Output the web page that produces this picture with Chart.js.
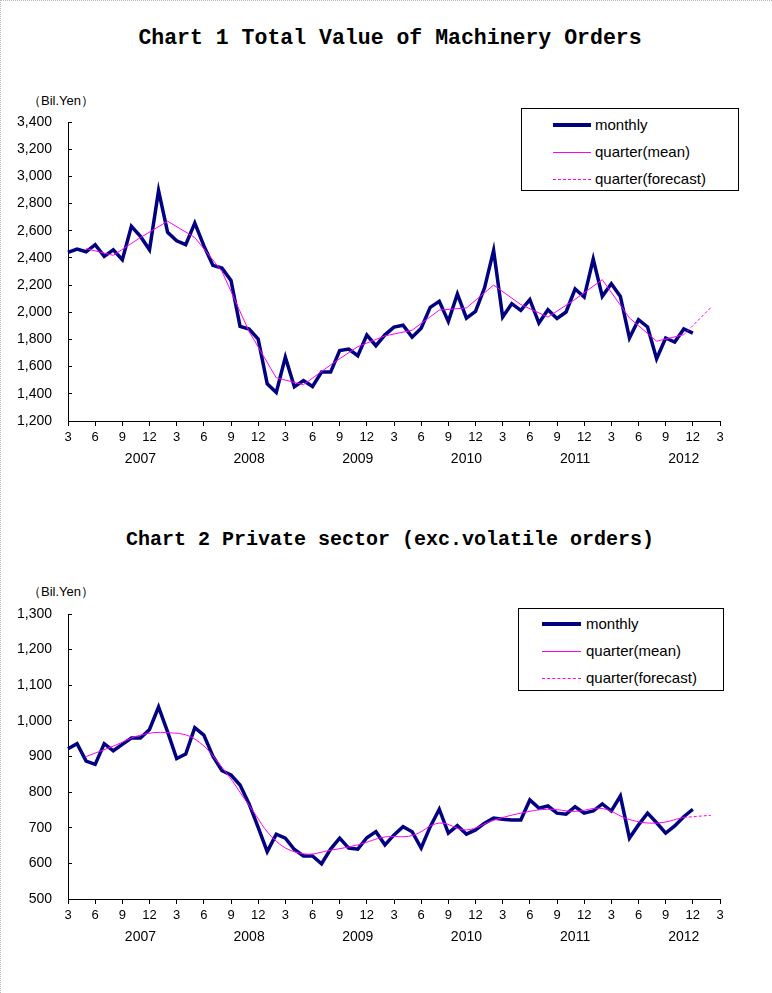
<!DOCTYPE html>
<html>
<head>
<meta charset="utf-8">
<script src="https://cdn.jsdelivr.net/npm/chart.js@4.4.1/dist/chart.umd.min.js"></script>
<style>
    html, body { margin: 0; padding: 0; background: #fff; }
    body { width: 772px; height: 993px; position: relative; overflow: hidden; }
    .frame { position: absolute; left: 0; top: 0; width: 772px; height: 993px; box-sizing: border-box;
             border-top: 1px dotted #b8b8b8; border-left: 1px dotted #b8b8b8; pointer-events: none; }
    .title { position: absolute; left: 0; width: 780px; text-align: center; line-height: 24px;
             font: bold 20px "Liberation Mono", "DejaVu Sans Mono", monospace; color: #000; }
    .unit  { position: absolute; left: 28px; font: 13px "Liberation Sans", Arial, sans-serif; color: #000; }
    .wrap  { position: absolute; left: 0; width: 772px; }
    .legend { position: absolute; border: 1px solid #000; background: #fff; box-sizing: border-box;
              font: 15px "Liberation Sans", Arial, sans-serif; color: #000; }
    .legend .row { position: absolute; left: 0; height: 20px; line-height: 20px; white-space: nowrap; }
    .legend .sw  { position: absolute; height: 0; }
    .legend .tx  { position: absolute; top: 0; }
</style>
</head>
<body>
<div class="frame"></div>

<div class="title" style="top:26px; font-size:21.5px;">Chart 1 Total Value of Machinery Orders</div>
<div class="unit" style="top:92px;">（Bil.Yen）</div>
<div class="wrap" style="top:100px; height:371px;"><canvas id="chart1"></canvas></div>
<div class="legend" id="legend1" style="left:521px; top:108px; width:218px; height:83px;"></div>

<div class="title" style="top:528px;">Chart 2 Private sector (exc.volatile orders)</div>
<div class="unit" style="top:583px;">（Bil.Yen）</div>
<div class="wrap" style="top:595px; height:354px;"><canvas id="chart2"></canvas></div>
<div class="legend" id="legend2" style="left:518px; top:608px; width:206px; height:83px;"></div>

<script>
// Data
// ----------------------------------------------
const years = [2007, 2008, 2009, 2010, 2011, 2012, 2013];

// Monthly categories, March 2007 to March 2013
const months = [];
years.forEach( y => {
    for ( let m = 1; m <= 12; m++ ) {
        if ( y === 2007 && m < 3 ) continue;
        if ( y === 2013 && m > 3 ) continue;
        months.push( y + '-' + String( m ).padStart( 2, '0' ) );
    }
});

// Chart 1: total value of machinery orders, 2007-03 .. 2012-12
const monthly1 = [
    2440, 2465, 2445, 2497, 2411, 2460, 2387, 2632, 2558, 2460,
    2895, 2588, 2526, 2497, 2656, 2490, 2345, 2325, 2234, 1896, 1876, 1803,
    1474, 1410, 1670, 1452, 1498, 1454, 1560, 1560, 1719, 1729, 1680, 1832,
    1754, 1834, 1891, 1905, 1817, 1883, 2036, 2080, 1933, 2134, 1957, 2006,
    2180, 2455, 1965, 2063, 2014, 2093, 1921, 2019, 1955, 2002, 2171, 2112,
    2392, 2117, 2210, 2117, 1811, 1945, 1892, 1658, 1811, 1781, 1877, 1847
];

// Quarter means are plotted on the middle month of each quarter
const quarterMonths = [
    '2007-05', '2007-08', '2007-11',
    '2008-02', '2008-05', '2008-08', '2008-11',
    '2009-02', '2009-05', '2009-08', '2009-11',
    '2010-02', '2010-05', '2010-08', '2010-11',
    '2011-02', '2011-05', '2011-08', '2011-11',
    '2012-02', '2012-05', '2012-08', '2012-11'
];
const quarterMean1 = [
    2468, 2419, 2550,
    2670, 2550, 2301, 1858,
    1518, 1467, 1613, 1747,
    1826, 1868, 2016, 2032,
    2200, 2057, 1965, 2095,
    2240, 1958, 1787, 1835
];
const forecastMonths = ['2012-11', '2013-02'];
const forecast1      = [1835, 2036];

// Chart 2: private sector excluding volatile orders
const monthly2 = [
    922, 936, 887, 878, 936, 916, 934, 952, 952, 976,
    1039, 969, 894, 907, 981, 960, 901, 860, 848, 820, 767, 701,
    633, 682, 671, 639, 621, 621, 599, 640, 671, 643, 640, 672,
    689, 652, 680, 703, 689, 643, 703, 752, 685, 706, 682, 694,
    713, 727, 724, 722, 722, 778, 755, 761, 741, 738, 759, 741,
    747, 767, 747, 789, 671, 708, 741, 714, 685, 705, 731, 752
];
const quarterMean2 = [
    900, 929, 960,
    967, 949, 870, 763,
    662, 627, 637, 652,
    674, 678, 713, 694,
    721, 741, 752, 746,
    754, 723, 713, 729
];
const forecast2 = [729, 735];


// Styles
// ----------------------------------------------
const navy    = '#000080';
const magenta = '#ff00ff';

Chart.defaults.font.family = '"Liberation Sans", Arial, sans-serif';
Chart.defaults.font.size   = 12;
Chart.defaults.color       = '#000';

const pairs = ( xs, ys ) => xs.map( ( x, i ) => ({ x: x, y: ys[i] }) );

function makeChart( id, legendId, monthly, qmean, fcast, yMin, yMax, yStep, tension, padTop ) {
    const chart = new Chart( document.getElementById( id ), {
        type: 'line',
        data: {
            labels: months,
            datasets: [
                {
                    label: 'monthly',
                    data: monthly,
                    borderColor: navy,
                    borderWidth: 3.5,
                    order: 2
                },
                {
                    label: 'quarter(mean)',
                    data: pairs( quarterMonths, qmean ),
                    borderColor: magenta,
                    borderWidth: 1,
                    tension: tension,
                    order: 1
                },
                {
                    label: 'quarter(forecast)',
                    data: pairs( forecastMonths, fcast ),
                    borderColor: magenta,
                    borderWidth: 1,
                    borderDash: [3, 2],
                    order: 0
                }
            ]
        },
        options: {
            responsive: true,
            maintainAspectRatio: false,
            animation: false,
            devicePixelRatio: 1,
            layout: { padding: { left: 0, right: 52, top: padTop, bottom: 0 } },
            plugins: { legend: { display: false }, tooltip: { enabled: false } },
            elements: {
                point: { radius: 0, hoverRadius: 0 },
                line: { borderJoinStyle: 'miter', borderCapStyle: 'butt' }
            },
            scales: {
                x: {
                    offset: false,
                    border: { color: '#000', width: 1 },
                    grid: {
                        drawOnChartArea: false,
                        tickLength: 5,
                        color: ctx => ( ctx.index % 3 === 0 ? '#000' : 'rgba(0,0,0,0)' )
                    },
                    ticks: {
                        autoSkip: false,
                        maxRotation: 0,
                        minRotation: 0,
                        padding: 4,
                        font: { size: 13 },
                        callback: function ( val ) {
                            const m = parseInt( this.getLabelForValue( val ).slice( 5 ), 10 );
                            return m % 3 === 0 ? String( m ) : '';
                        }
                    },
                    afterFit: s => { s.height = 24; s.paddingLeft = 0; s.paddingRight = 0; }
                },
                years: {
                    type: 'category',
                    position: 'bottom',
                    weight: 1,
                    offset: false,
                    border: { display: false },
                    grid: { display: false, drawTicks: false },
                    ticks: {
                        autoSkip: false,
                        maxRotation: 0,
                        minRotation: 0,
                        padding: 6,
                        font: { size: 14 },
                        callback: function ( val ) {
                            const lab = this.getLabelForValue( val );
                            return lab.slice( 5 ) === '11' ? lab.slice( 0, 4 ) : '';
                        }
                    },
                    afterFit: s => { s.height = 26; s.paddingLeft = 0; s.paddingRight = 0; }
                },
                y: {
                    min: yMin,
                    max: yMax,
                    border: { color: '#000', width: 1 },
                    grid: { drawOnChartArea: false, tickLength: -4, color: '#000' },
                    ticks: {
                        stepSize: yStep,
                        padding: 20,
                        font: { size: 14 },
                        callback: v => v.toLocaleString( 'en-US' )
                    },
                    afterFit: s => { s.width = 68; s.paddingTop = 0; s.paddingBottom = 0; }
                }
            }
        }
    });

    // Boxed legend built from the datasets
    const box = document.getElementById( legendId );
    const cfg = legendId === 'legend1'
        ? { rowTop: [6, 33, 60], swLeft: 31, swWidth: 38, txLeft: 73 }
        : { rowTop: [5, 32, 59], swLeft: 23, swWidth: 39, txLeft: 67 };
    chart.data.datasets.forEach( ( ds, i ) => {
        const row = document.createElement( 'div' );
        row.className = 'row';
        row.style.top = cfg.rowTop[i] + 'px';
        const sw = document.createElement( 'div' );
        sw.className = 'sw';
        sw.style.left = cfg.swLeft + 'px';
        sw.style.width = cfg.swWidth + 'px';
        const w = ds.borderWidth >= 3 ? 4 : 1;
        sw.style.top = ( 10 - Math.floor( w / 2 ) ) + 'px';
        sw.style.borderTop = w + 'px ' + ( ds.borderDash ? 'dashed ' : 'solid ' ) + ds.borderColor;
        const tx = document.createElement( 'div' );
        tx.className = 'tx';
        tx.style.left = cfg.txLeft + 'px';
        tx.textContent = ds.label;
        row.appendChild( sw );
        row.appendChild( tx );
        box.appendChild( row );
    });

    return chart;
}

makeChart( 'chart1', 'legend1', monthly1, quarterMean1, forecast1, 1200, 3400, 200, 0, 22 );
makeChart( 'chart2', 'legend2', monthly2, quarterMean2, forecast2, 500, 1300, 100, 0.4, 19 );
</script>
</body>
</html>
